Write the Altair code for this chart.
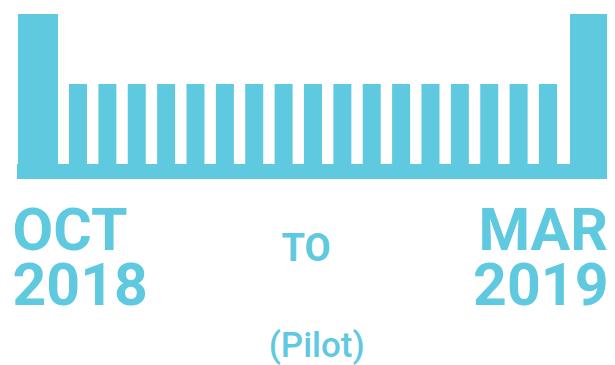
import altair as alt
import pandas as pd

COLOR = "#5FC9DF"

# bar positions (in slot units) and heights
tall_pos = [-0.362, 18.43]
tall_height = [100, 100]
short_pos = list(range(1, 18))
short_height = [53.3] * 17
base_start = [-1.077]
base_end = [19.145]
base_low = [-10]
base_high = [0]

left_lines = ["OCT", "2018"]
right_lines = ["MAR", "2019"]
mid_text = ["TO"]
note_text = ["(Pilot)"]

# 599 px of plot width covers page x 8..607 (29.375 px per slot)
xs = alt.Scale(domain=[-1.383, 19.009], nice=False, zero=False, padding=0)
ys = alt.Scale(domain=[-134, 104], nice=False, zero=False, padding=0)

tall_df = pd.DataFrame({"pos": tall_pos, "h": tall_height})
short_df = pd.DataFrame({"pos": short_pos, "h": short_height})
base_df = pd.DataFrame({"x0": base_start, "x1": base_end, "y0": base_low, "y1": base_high})

tall = alt.Chart(tall_df).mark_bar(color=COLOR, size=40, cornerRadius=0, clip=False).encode(
    x=alt.X("pos:Q", scale=xs, axis=None),
    y=alt.Y("h:Q", scale=ys, axis=None),
    y2=alt.datum(0),
)
short = alt.Chart(short_df).mark_bar(color=COLOR, size=18).encode(
    x=alt.X("pos:Q", scale=xs, axis=None),
    y=alt.Y("h:Q", scale=ys, axis=None),
    y2=alt.datum(0),
)
base = alt.Chart(base_df).mark_rect(color=COLOR, clip=False).encode(
    x=alt.X("x0:Q", scale=xs, axis=None),
    x2="x1:Q",
    y=alt.Y("y0:Q", scale=ys, axis=None),
    y2="y1:Q",
)

def txt(s, x, y, size, align, weight="bold"):
    return alt.Chart(pd.DataFrame({"t": [s]})).mark_text(
        color=COLOR, font="Roboto", fontSize=size, fontWeight=weight,
        align=align, baseline="alphabetic",
    ).encode(text="t:N", x=alt.value(x), y=alt.value(y))

texts = [
    txt(left_lines[0], 4.5, 242, 59, "left"),
    txt(left_lines[1], 4.5, 297, 59, "left"),
    txt(right_lines[0], 600, 242, 59, "right"),
    txt(right_lines[1], 600.5, 297, 59, "right"),
    txt(mid_text[0], 298, 252.7, 38, "center"),
    txt(note_text[0], 308.7, 349, 35, "center", 500),
]

chart = alt.layer(base, tall, short, *texts).properties(
    width=599, height=357,
    autosize=alt.AutoSizeParams(type="none"),
    padding=0,
).configure_view(stroke=None)

chart.save("out.html", embed_options={"renderer": "svg", "actions": False})
